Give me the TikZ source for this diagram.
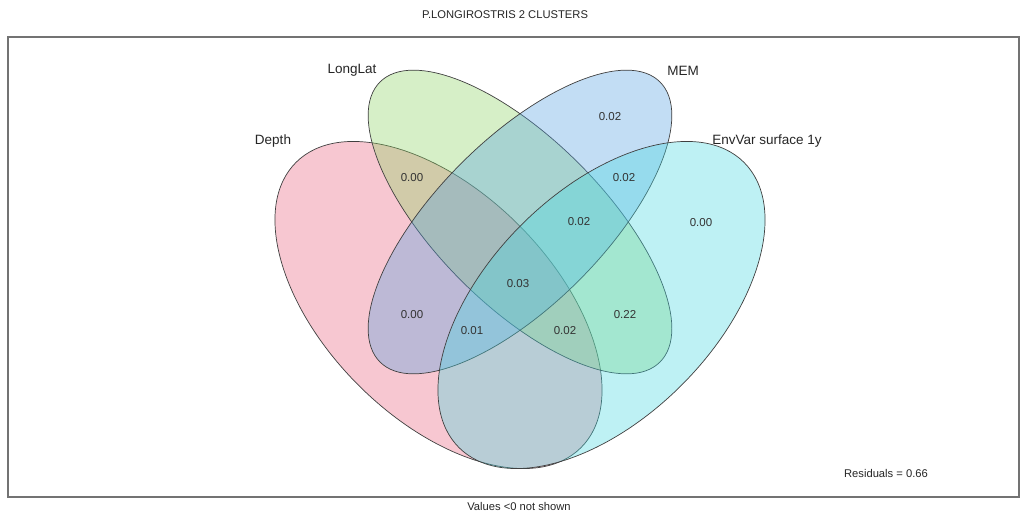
\documentclass[tikz,border=0pt]{standalone}
\usepackage{fontspec}
\setmainfont{Liberation Sans}
\begin{document}
\begin{tikzpicture}[x=1pt,y=1pt,
  setfill/.style={fill opacity=0.35, draw opacity=1, draw=black!75, line width=0.7pt},
  setname/.style={text=black!85, font=\fontsize{13.5}{16}\selectfont, inner sep=0pt},
  value/.style={text=black!80, font=\fontsize{11.5}{14}\selectfont, inner sep=0pt},
  note/.style={text=black!85, font=\fontsize{11.2}{13}\selectfont, inner sep=0pt}]
\definecolor{depthcol}{RGB}{234,97,126}
\definecolor{longlatcol}{RGB}{140,211,97}
\definecolor{memcol}{RGB}{83,160,226}
\definecolor{envcol}{RGB}{69,217,226}
\useasboundingbox (0,0) rectangle (1021,512);
\fill[white] (0,0) rectangle (1021,512);

% plot frame
\draw[black!55, line width=1.3pt] (8,15) rectangle (1019,475);

% the four sets
\coordinate (cDepth) at (438.5,207);
\coordinate (cEnv) at (601.5,207);
\coordinate (cInner) at (520,290);
\path[setfill, fill=depthcol, rotate around={-45:(cDepth)}] (cDepth) ellipse [x radius=201.6, y radius=113.3];
\path[setfill, fill=longlatcol, rotate around={-45:(cInner)}] (cInner) ellipse [x radius=198, y radius=83];
\path[setfill, fill=memcol, rotate around={45:(cInner)}] (cInner) ellipse [x radius=198, y radius=83];
\path[setfill, fill=envcol, rotate around={45:(cEnv)}] (cEnv) ellipse [x radius=201.6, y radius=113.3];

% set names
\node[setname] (nDepth) at (273,371) {Depth};
\node[setname] (nLongLat) at (352,442) {LongLat};
\node[setname] (nMEM) at (683,441) {MEM};
\node[setname] (nEnv) at (767,371) {EnvVar surface 1y};

% fractions
\node[value] (vM) at (610,395) {0.02};
\node[value] (vME) at (624,334) {0.02};
\node[value] (vDL) at (412,334) {0.00};
\node[value] (vLME) at (579,290) {0.02};
\node[value] (vE) at (701,289) {0.00};
\node[value] (vAll) at (518,228) {0.03};
\node[value] (vDM) at (412,197) {0.00};
\node[value] (vLE) at (625,197) {0.22};
\node[value] (vDME) at (472,181) {0.01};
\node[value] (vDLE) at (565,181) {0.02};

% titles and notes
\node[note] (title) at (505,497) {P.LONGIROSTRIS 2 CLUSTERS};
\node[note] (resid) at (886,39) {Residuals = 0.66};
\node[note] (neg) at (519,6) {Values <0 not shown};
\end{tikzpicture}
\end{document}
